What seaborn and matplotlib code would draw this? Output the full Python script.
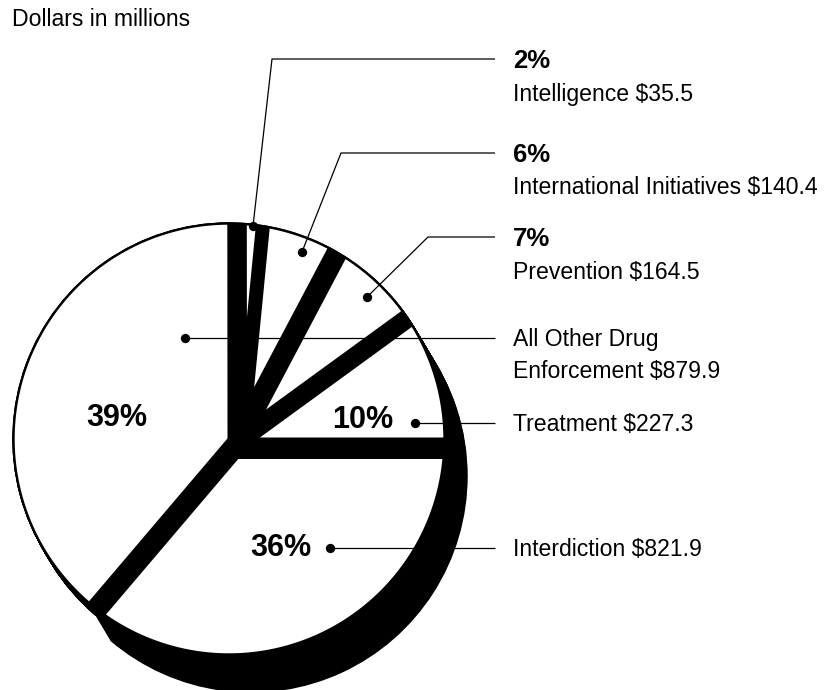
import numpy as np
import matplotlib
matplotlib.use("Agg")
import matplotlib.pyplot as plt
import seaborn as sns
import pandas as pd

# ---------------- data ----------------
categories = ["Treatment", "Prevention", "International Initiatives",
              "Intelligence", "All Other Drug Enforcement", "Interdiction"]
amounts = [227.3, 164.5, 140.4, 35.5, 879.9, 821.9]          # dollars in millions
pct_labels = ["10%", "7%", "6%", "2%", "39%", "36%"]
name_labels = ["Treatment $227.3", "Prevention $164.5",
               "International Initiatives $140.4", "Intelligence $35.5",
               "All Other Drug\nEnforcement $879.9", "Interdiction $821.9"]
title_text = "Dollars in millions"

# ---------------- layout (pixels, y measured from top) ----------------
W, H = 829, 690
CX, CY_TOP = 229, 439
R = 216
OUTLINE = 1.7
# extrusion (right, down) of each slice
shadow_vec = [(22, 37), (22, 37), (22, 37), (22, 37), (7, 12), (22, 37)]
# black band widths (cw side, ccw side) of each slice
bands = [(1.5, 17), (2, 19), (2, 20), (-6, 18), (1.5, 1.5), (20, 20)]
# leader: dot, elbow (or None), end of horizontal line
dots = [(415, 423), (367, 297), (302, 252), (253, 226), (185, 338), (330, 548)]
elbows = [None, (428, 237), (341, 153), (272, 59), None, None]
line_end_x = 495
# text placement
pct_outside = {1: 246, 2: 162, 3: 68}   # bold % baseline for outer labels
name_base = [431, 279, 194, 100.5, 346, 556]
pct_inside = {0: (363, 420), 4: (117, 418), 5: (281, 548)}
TEXT_X = 513
FS = 16.6

sns.set_theme(style="white")
plt.rcParams['font.family'] = ['Liberation Sans', 'DejaVu Sans']
plt.rcParams['text.color'] = 'black'

fig = plt.figure(figsize=(W / 100, H / 100), dpi=100)
ax = fig.add_axes([0, 0, 1, 1])

def Y(y):
    return H - y

CY = Y(CY_TOP)
C = np.array([CX, CY], dtype=float)
n = len(amounts)

# black base
ax.pie(amounts, radius=R, center=(CX, CY), startangle=0, counterclock=True,
       colors=['black'] * n, wedgeprops=dict(edgecolor='black', linewidth=1))

# 3-D extrusion, slice by slice (grouped by extrusion vector)
for vec in sorted(set(shadow_vec)):
    member = [v == vec for v in shadow_vec]
    for t in np.linspace(0, 1, 40):
        ws, _ = ax.pie(amounts, radius=R,
                       center=(CX + t * vec[0], CY - t * vec[1]),
                       startangle=0, counterclock=True,
                       colors=['black' if m else 'none' for m in member],
                       wedgeprops=dict(linewidth=1))
        for w, m in zip(ws, member):
            w.set_edgecolor('black' if m else 'none')

# slice angles from the pie itself
wedges, _ = ax.pie(amounts, radius=R, center=(CX, CY), startangle=0,
                   counterclock=True, colors=['white'] * n,
                   wedgeprops=dict(linewidth=0))


def ray_hit(P, ang, r):
    u = np.array([np.cos(ang), np.sin(ang)])
    d = P - C
    b = d @ u
    s = -b + np.sqrt(b * b - d @ d + r * r)
    q = P + s * u
    return np.arctan2(q[1] - CY, q[0] - CX)


r_in = R - OUTLINE
for w, (b1, b2) in zip(wedges, bands):
    w.set_visible(False)
    t1, t2 = np.radians(w.theta1), np.radians(w.theta2)
    n1 = np.array([-np.sin(t1), np.cos(t1)])
    n2 = np.array([np.sin(t2), -np.cos(t2)])
    p = np.linalg.solve(np.vstack([n1, n2]), [b1, b2])
    P = C + p
    a1 = ray_hit(P, t1, r_in)
    a2 = ray_hit(P, t2, r_in)
    if a2 < a1:
        a2 += 2 * np.pi
    arc = np.linspace(a1, a2, 200)
    xs = np.concatenate([[P[0]], CX + r_in * np.cos(arc), [P[0]]])
    ys = np.concatenate([[P[1]], CY + r_in * np.sin(arc), [P[1]]])
    ax.fill(xs, ys, facecolor='white', edgecolor='none', zorder=2)

# leader lines
for i in range(n):
    dx, dy = dots[i]
    if elbows[i] is None:
        xs, ys = [dx, line_end_x], [Y(dy), Y(dy)]
    else:
        ex, ey = elbows[i]
        xs, ys = [dx, ex, line_end_x], [Y(dy), Y(ey), Y(ey)]
    ax.plot(xs, ys, color='black', lw=0.9, solid_capstyle='butt', zorder=3)

dot_df = pd.DataFrame({"x": [d[0] for d in dots], "y": [Y(d[1]) for d in dots],
                       "category": categories})
sns.scatterplot(data=dot_df, x="x", y="y", color='black', s=45, linewidth=0,
                ax=ax, legend=False, zorder=4)

# texts
for i in range(n):
    if i in pct_outside:
        ax.text(TEXT_X, Y(pct_outside[i]), pct_labels[i], fontsize=18.5,
                fontweight='bold', ha='left', va='baseline', color='black')
    if "\n" in name_labels[i]:
        l1, l2 = name_labels[i].split("\n")
        ax.text(TEXT_X, Y(name_base[i]), l1, fontsize=FS, ha='left',
                va='baseline', color='black')
        ax.text(TEXT_X, Y(name_base[i] + 32), l2, fontsize=FS, ha='left',
                va='baseline', color='black')
    else:
        ax.text(TEXT_X, Y(name_base[i]), name_labels[i], fontsize=FS,
                ha='left', va='baseline', color='black')
    if i in pct_inside:
        px, py = pct_inside[i]
        ax.text(px, Y(py), pct_labels[i], fontsize=22, fontweight='bold',
                ha='center', va='center', zorder=5, color='black')

ax.text(12, Y(26), title_text, fontsize=FS, ha='left', va='baseline', color='black')

ax.set_xlim(0, W)
ax.set_ylim(0, H)
ax.set_aspect('equal')
ax.axis('off')
fig.savefig("out.png", dpi=100)
